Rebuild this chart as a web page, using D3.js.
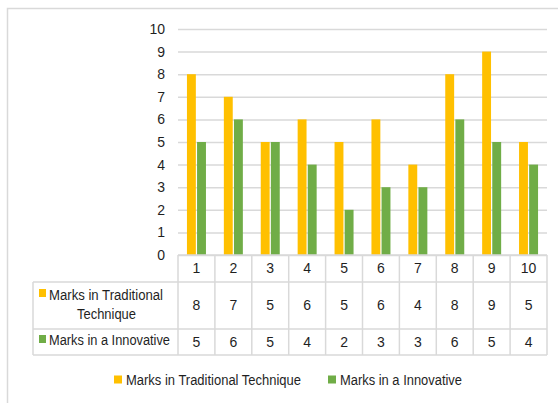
<!DOCTYPE html>
<html><head><meta charset="utf-8">
<script src="https://cdn.jsdelivr.net/npm/d3@7/dist/d3.min.js"></script>
<style>
html,body{margin:0;padding:0;background:#fff;}
svg text{font-family:"Liberation Sans",Arial,sans-serif;fill:#1f1f1f;}
</style></head>
<body><svg id="c" width="558" height="403"></svg>
<script>
const categories = ["1","2","3","4","5","6","7","8","9","10"];
const traditional = [8,7,5,6,5,6,4,8,9,5];
const innovative = [5,6,5,4,2,3,3,6,5,4];
const seriesNames = ["Marks in Traditional Technique","Marks in a Innovative"];
const yTicks = [0,1,2,3,4,5,6,7,8,9,10];
const colors = ["#FFC000","#70AD47"];

const svg = d3.select("#c");
const grid = "#d9d9d9";
const L = 178, R = 547, T = 29, B = 255;

svg.append("rect").attr("x",7.5).attr("y",8.5).attr("width",700).attr("height",600)
  .attr("fill","none").attr("stroke",grid).attr("stroke-width",1.5);

const y = d3.scaleLinear().domain([0,10]).range([B,T]);
const xCol = d3.scaleBand().domain(categories).range([L,R]).padding(0);
const x0 = d3.scaleBand().domain(categories).range([L,R]).paddingInner(0.485).paddingOuter(0.2425);
const x1 = d3.scaleBand().domain([0,1]).range([0,x0.bandwidth()]).paddingInner(0.12);

// gridlines
const yAxis = d3.axisLeft(y).tickValues(yTicks).tickSize(-(R-L)).tickFormat(d3.format("d"));
const ga = svg.append("g").attr("transform",`translate(${L},0)`).call(yAxis);
ga.select(".domain").remove();
ga.selectAll(".tick line").attr("stroke",grid).attr("stroke-width",1.5);
ga.selectAll(".tick text").attr("x",-13).attr("font-size",14).attr("fill","#1f1f1f")
  .attr("font-family","Liberation Sans, Arial, sans-serif");

// bars
const data = categories.map((c,i)=>({c, v:[traditional[i],innovative[i]]}));
const g = svg.append("g");
data.forEach(d=>{
  d.v.forEach((v,j)=>{
    g.append("rect").attr("x",x0(d.c)+x1(j)).attr("y",y(v))
      .attr("width",x1.bandwidth()).attr("height",y(0)-y(v)).attr("fill",colors[j]);
  });
});

// table
const tl = svg.append("g").attr("stroke",grid).attr("stroke-width",1.5);
tl.append("line").attr("x1",L).attr("x2",R).attr("y1",B).attr("y2",B);
[282,329,355].forEach(yy=>tl.append("line").attr("x1",33).attr("x2",R).attr("y1",yy).attr("y2",yy));
tl.append("line").attr("x1",33).attr("x2",33).attr("y1",282).attr("y2",355);
categories.forEach(c=>tl.append("line").attr("x1",xCol(c)).attr("x2",xCol(c)).attr("y1",B).attr("y2",355));
tl.append("line").attr("x1",R).attr("x2",R).attr("y1",B).attr("y2",355);

const tt = svg.append("g").attr("font-size",14).attr("text-anchor","middle");
categories.forEach((c,i)=>{
  const cx = xCol(c)+xCol.bandwidth()/2;
  tt.append("text").attr("x",cx).attr("y",(B+282)/2).attr("dy","0.35em").text(c);
  tt.append("text").attr("x",cx).attr("y",(282+329)/2).attr("dy","0.35em").text(traditional[i]);
  tt.append("text").attr("x",cx).attr("y",(329+355)/2).attr("dy","0.35em").text(innovative[i]);
});

// row labels
const rl = svg.append("g").attr("font-size",14);
function fit(sel, w){ return sel.attr("textLength",w).attr("lengthAdjust","spacingAndGlyphs"); }
rl.append("rect").attr("x",39).attr("y",289).attr("width",7).attr("height",8).attr("fill",colors[0]);
fit(rl.append("text").attr("x",49).attr("y",295).attr("dy","0.35em").text("Marks in Traditional"),114);
fit(rl.append("text").attr("x",77).attr("y",314).attr("dy","0.35em").text("Technique"),59);
rl.append("rect").attr("x",39).attr("y",335).attr("width",7).attr("height",8).attr("fill",colors[1]);
fit(rl.append("text").attr("x",49).attr("y",340).attr("dy","0.35em").text("Marks in a Innovative"),121);

// legend
const lg = svg.append("g").attr("font-size",14);
const legendPos = [114, 328];
const legendW = [175, 122];
seriesNames.forEach((n,i)=>{
  lg.append("rect").attr("x",legendPos[i]).attr("y",375.5).attr("width",8).attr("height",8).attr("fill",colors[i]);
  fit(lg.append("text").attr("x",legendPos[i]+12).attr("y",380).attr("dy","0.35em").text(n), legendW[i]);
});
</script></body></html>
